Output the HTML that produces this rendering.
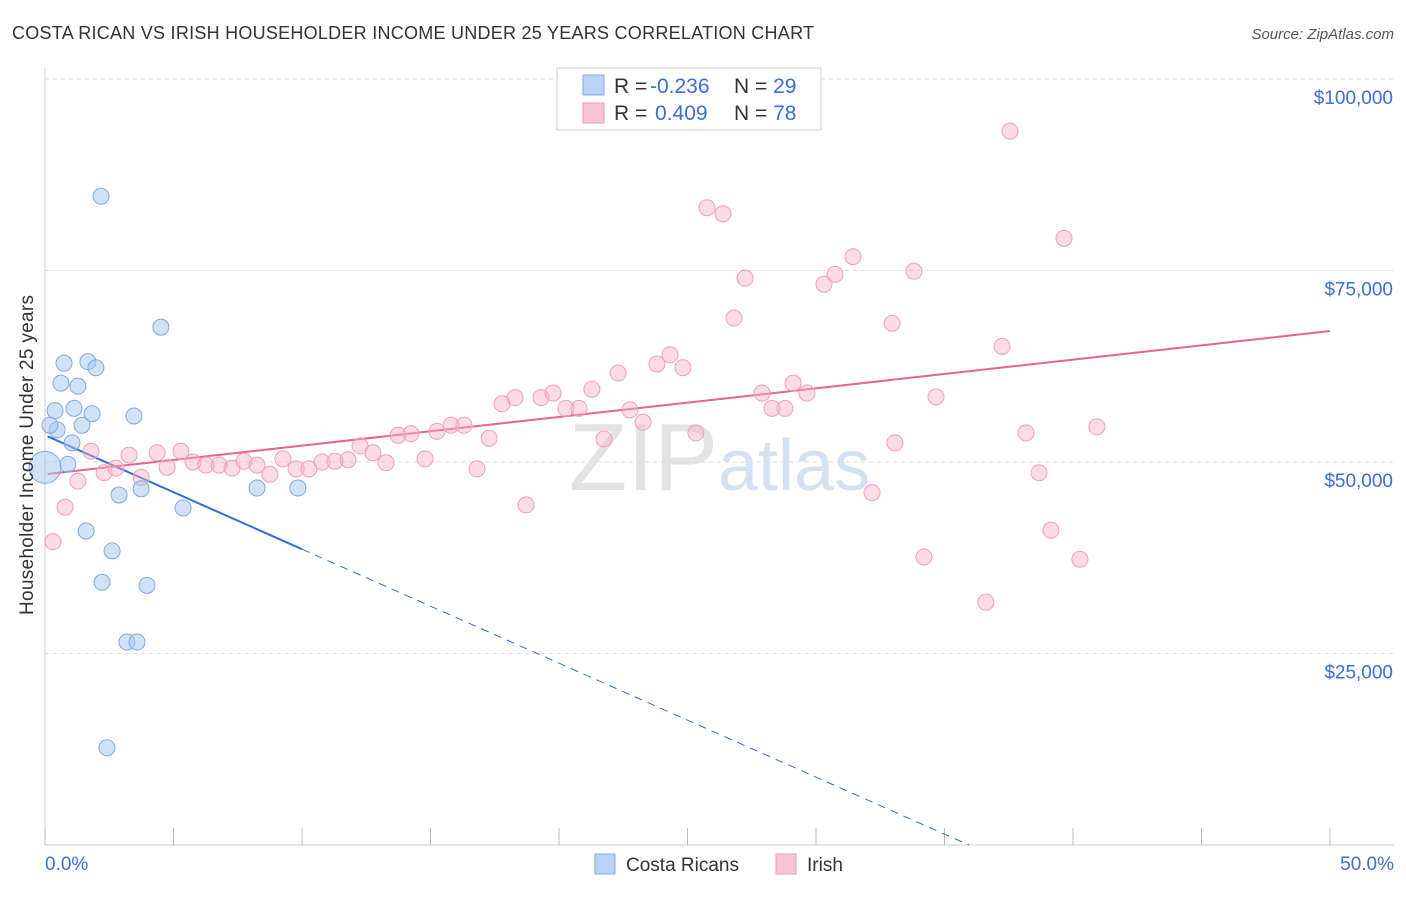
<!DOCTYPE html>
<html><head><meta charset="utf-8"><style>
body{margin:0;background:#fff;font-family:"Liberation Sans",sans-serif;}
svg text{font-family:"Liberation Sans",sans-serif;}
</style></head><body>
<svg id="chart" width="1406" height="892" viewBox="0 0 1406 892" xmlns="http://www.w3.org/2000/svg">
<text x="12" y="39" font-size="18" fill="#333" textLength="802" lengthAdjust="spacing">COSTA RICAN VS IRISH HOUSEHOLDER INCOME UNDER 25 YEARS CORRELATION CHART</text>
<text x="1394" y="39" font-size="15" fill="#555" text-anchor="end" font-style="italic">Source: ZipAtlas.com</text>
<text x="718" y="490" font-size="96" fill="#ddd" text-anchor="end" font-family="Liberation Serif" opacity="0.8">ZIP</text>
<text x="718" y="490" font-size="72" fill="#c9daf0" opacity="0.8">atlas</text>
<g id="grid"></g><g id="axes"></g><g id="trend"></g><g id="points"></g>
<text transform="translate(33,455) rotate(-90)" font-size="19" fill="#333" text-anchor="middle" textLength="320" lengthAdjust="spacing">Householder Income Under 25 years</text>
<g>
<rect x="557" y="68" width="264" height="62" fill="#fff" stroke="#ccc"/>
<rect x="583" y="75" width="21" height="20" fill="#b8d3f5" stroke="#7fa9e0"/>
<rect x="583" y="103" width="21" height="20" fill="#f9c5d4" stroke="#ee9ab2"/>
<text x="614" y="93" font-size="21" fill="#333">R = <tspan fill="#3b6fd0" x="650">-0.236</tspan></text>
<text x="734" y="93" font-size="21" fill="#333">N = <tspan fill="#3b6fd0">29</tspan></text>
<text x="614" y="120" font-size="21" fill="#333">R = <tspan fill="#3b6fd0" x="655">0.409</tspan></text>
<text x="734" y="120" font-size="21" fill="#333">N = <tspan fill="#3b6fd0">78</tspan></text>
</g>
<g>
<rect x="595" y="854" width="20" height="20" fill="#b8d3f5" stroke="#7fa9e0"/>
<text x="626" y="871" font-size="19" fill="#333">Costa Ricans</text>
<rect x="776" y="854" width="20" height="20" fill="#f9c5d4" stroke="#ee9ab2"/>
<text x="807" y="871" font-size="19" fill="#333">Irish</text>
</g>
</svg>
<script>
const blueX=[2.18,4.51,0.74,1.67,1.98,0.62,1.28,0.39,1.13,1.83,3.46,1.44,0.47,1.05,0.89,0.0,2.88,3.74,5.37,8.25,9.84,1.60,2.61,2.22,3.97,3.19,3.58,2.41,0.19];
const blueY=[84.7,67.6,62.9,63.1,62.3,60.3,59.9,56.7,57.0,56.3,56.0,54.8,54.2,52.5,49.7,49.3,45.7,46.5,44.0,46.6,46.6,41.0,38.4,34.3,33.9,26.5,26.5,12.7,54.8];
const pinkX=[0.31,0.78,1.28,1.79,2.30,2.76,3.27,3.74,4.36,4.75,5.29,5.76,6.26,6.77,7.28,7.74,8.25,8.75,9.26,9.77,10.27,10.78,11.28,11.79,12.26,12.76,13.27,13.74,14.24,14.79,15.25,15.80,16.30,16.81,17.28,17.78,18.29,18.72,19.30,19.77,20.27,20.78,21.28,21.75,22.30,22.76,23.27,23.81,24.32,24.82,25.33,25.76,26.38,26.81,27.24,27.90,28.29,28.79,29.11,29.65,30.31,30.74,31.44,32.18,32.96,33.07,33.81,34.20,34.67,36.61,37.24,37.55,38.17,38.68,39.14,39.65,40.27,40.93];
const pinkY=[39.6,44.1,47.5,51.4,48.6,49.2,50.9,48.0,51.2,49.3,51.4,50.0,49.6,49.6,49.2,50.1,49.6,48.4,50.4,49.1,49.1,50.0,50.1,50.3,52.1,51.2,49.9,53.5,53.7,50.4,54.0,54.8,54.8,49.1,53.1,57.6,58.4,44.4,58.4,59.0,57.0,57.0,59.5,53.0,61.6,56.8,55.2,62.8,64.0,62.3,53.8,83.2,82.4,68.8,74.0,59.0,57.0,57.0,60.3,59.0,73.2,74.5,76.8,46.0,68.1,52.5,74.9,37.6,58.5,31.7,65.1,93.2,53.8,48.6,41.1,79.2,37.3,54.6];
const yTicks=[25,50,75,100];
const yTickLabels=["$25,000","$50,000","$75,000","$100,000"];
const xTicks=[0,5,10,15,20,25,30,35,40,45,50];
const blueTrend=[53.5,-1.488];
const pinkTrend=[48.4,0.374];
const NS="http://www.w3.org/2000/svg";
const sx=v=>45+v*25.7, sy=v=>845-v*7.66;
function mk(p,t,a){const e=document.createElementNS(NS,t);for(const k in a)e.setAttribute(k,a[k]);p.appendChild(e);return e;}
const grid=document.getElementById('grid'),axes=document.getElementById('axes'),trend=document.getElementById('trend'),pts=document.getElementById('points');
yTicks.forEach((v,i)=>{
 const l=mk(grid,'line',{x1:45,x2:1394,y1:sy(v),y2:sy(v),stroke:'#ddd','stroke-dasharray':'4,4'});
 
 
 const t=mk(axes,'text',{x:1393,y:sy(v)+25,'font-size':19,fill:'#3b6fd0','text-anchor':'end'});
 t.textContent=yTickLabels[i];
 
 
});
mk(axes,'line',{x1:45,x2:45,y1:68,y2:845,stroke:'#ccc'});
mk(axes,'line',{x1:45,x2:1394,y1:845,y2:845,stroke:'#ccc'});
xTicks.forEach(v=>{const l=mk(axes,'line',{x1:sx(v),x2:sx(v),y1:828,y2:845,stroke:'#bbb'});
 
 });
const xl=mk(axes,'text',{x:45,y:870,'font-size':19,fill:'#3b6fd0'});xl.textContent=xTicks[0].toFixed(1)+'%';


const xr=mk(axes,'text',{x:1394,y:870,'font-size':19,fill:'#3b6fd0','text-anchor':'end'});xr.textContent=xTicks[xTicks.length-1].toFixed(1)+'%';


const bAt=x=>blueTrend[0]+blueTrend[1]*x, pAt=x=>pinkTrend[0]+pinkTrend[1]*x;
const xEnd=-blueTrend[0]/blueTrend[1];
let e=mk(trend,'line',{x1:sx(0.1),y1:sy(bAt(0.1)),x2:sx(10),y2:sy(bAt(10)),stroke:'#2f6fd6','stroke-width':2});


e=mk(trend,'line',{x1:sx(10),y1:sy(bAt(10)),x2:sx(xEnd),y2:sy(0),stroke:'#2f6fd6','stroke-width':1,'stroke-dasharray':'8,6'});


e=mk(trend,'line',{x1:sx(0.1),y1:sy(pAt(0.1)),x2:sx(50),y2:sy(pAt(50)),stroke:'#e8638f','stroke-width':2});


pinkX.forEach((x,i)=>{const c=mk(pts,'circle',{cx:sx(x),cy:sy(pinkY[i]),r:8,fill:'rgba(246,176,198,0.45)',stroke:'#efa0b8','stroke-width':1});
 
 });
blueX.forEach((x,i)=>{const c=mk(pts,'circle',{cx:sx(x),cy:sy(blueY[i]),r:i===15?16:8,fill:'rgba(164,198,240,0.5)',stroke:'#7fa9e0','stroke-width':1});
 
 });
</script>
</body></html>
